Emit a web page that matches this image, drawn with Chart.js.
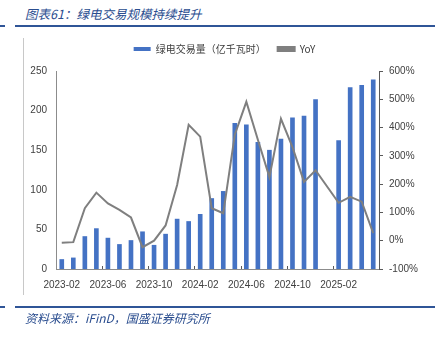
<!DOCTYPE html>
<html>
<head>
<meta charset="utf-8">
<script src="https://cdn.jsdelivr.net/npm/chart.js@4.4.0/dist/chart.umd.min.js"></script>
<style>
  body { margin: 0; background: #fff; }
  .wrap { position: relative; width: 440px; height: 340px; overflow: hidden; background: #fff; }
  .title, .source {
    position: absolute; left: 25px; margin: 0;
    font-family: "Noto Sans CJK SC", sans-serif; font-style: italic;
    color: #2a4d8f; white-space: nowrap;
  }
  .title { top: 4px; font-size: 12.5px; }
  .source { top: 309px; font-size: 12px; }
  .rule { position: absolute; height: 2px; background: #2f5597; }
  .frame { position: absolute; left: 23px; top: 38px; width: 1px; height: 257px; background: #c8c8c8; }
  canvas { position: absolute; left: 0; top: 0; }
</style>
</head>
<body>
<div class="wrap">
  <p class="title">图表61：绿电交易规模持续提升</p>
  <div class="rule" style="left:0;top:25px;width:5px"></div>
  <div class="rule" style="left:15px;top:25px;width:420px"></div>
  <div class="frame"></div>
  <canvas id="myChart" width="440" height="340"></canvas>
  <div class="rule" style="left:0;top:306px;width:5px"></div>
  <div class="rule" style="left:15px;top:306px;width:420px"></div>
  <p class="source">资料来源：iFinD，国盛证券研究所</p>
</div>
<script>
// months 2023-02 .. 2025-05
const months = [
  '2023-02', '2023-03', '2023-04', '2023-05', '2023-06', '2023-07', '2023-08',
  '2023-09', '2023-10', '2023-11', '2023-12', '2024-01', '2024-02', '2024-03',
  '2024-04', '2024-05', '2024-06', '2024-07', '2024-08', '2024-09', '2024-10',
  '2024-11', '2024-12', '2025-01', '2025-02', '2025-03', '2025-04', '2025-05'
]

// 绿电交易量（亿千瓦时）
const volume = [
  12, 14, 41, 51, 39, 31, 36, 47, 30, 44, 63, 60, 69, 89,
  98, 184, 182, 160, 150, 164, 191, 193, 214, null, 162, 229, 232, 239
]

// YoY (%)
const yoy = [
  -7, -5, 115, 170, 132, 109, 82, -23, 0, 54, 197, 410, 368, 115,
  97, 375, 491, 357, 225, 431, 331, 208, 249, null, 134, 155, 138, 27
]

const leftTicks = [0, 50, 100, 150, 200, 250]
const rightTicks = [-100, 0, 100, 200, 300, 400, 500, 600]

const tickFont = { family: '"Liberation Sans", Arial, sans-serif', size: 10 }
const tickColor = '#404040'

// small tick marks on the category axis, every 4 months, pointing up
const xTickMarks = {
  id: 'xTickMarks',
  afterDatasetsDraw(chart) {
    const { ctx, scales: { x } } = chart
    const half = (x.getPixelForValue(1) - x.getPixelForValue(0)) / 2
    ctx.save()
    ctx.strokeStyle = '#595959'
    ctx.lineWidth = 1
    for (let i = 4; i < months.length; i += 4) {
      const px = Math.round(x.getPixelForValue(i) - half) + 0.5
      ctx.beginPath()
      ctx.moveTo(px, x.top)
      ctx.lineTo(px, x.top - 3)
      ctx.stroke()
    }
    ctx.restore()
  }
}

// a bit more room between the legend and the plot
const legendGap = {
  id: 'legendGap',
  afterInit(chart) {
    const legend = chart.legend
    const fit = legend.fit
    legend.fit = function () {
      fit.call(this)
      this.height += 7
    }
  }
}

const ctx = document.getElementById('myChart').getContext('2d')

const myChart = new Chart(ctx, {
  type: 'bar',
  data: {
    labels: months,
    datasets: [{
      label: '绿电交易量（亿千瓦时）',
      data: volume,
      backgroundColor: '#4472c4',
      barThickness: 4,
      yAxisID: 'y',
      order: 1
    }, {
      type: 'line',
      label: 'YoY',
      data: yoy,
      borderColor: '#7f7f7f',
      backgroundColor: '#7f7f7f',
      borderWidth: 2,
      pointRadius: 0,
      spanGaps: true,
      tension: 0,
      yAxisID: 'y1',
      order: 0
    }]
  },
  options: {
    responsive: false,
    animation: false,
    layout: { padding: { left: 25, right: 16, top: 32, bottom: 46 } },
    plugins: {
      tooltip: { enabled: false },
      legend: {
        labels: {
          boxWidth: 17,
          boxHeight: 4,
          padding: 12,
          color: '#404040',
          font: { family: '"Noto Sans CJK SC", sans-serif', size: 10 },
          sort: (a, b) => a.datasetIndex - b.datasetIndex
        }
      }
    },
    scales: {
      x: {
        grid: { display: false },
        border: { color: '#8c8c8c', width: 1 },
        ticks: {
          autoSkip: false,
          maxRotation: 0,
          padding: 2,
          color: tickColor,
          font: tickFont,
          callback: (v, i) => (i % 4 === 0 ? months[i] : '')
        },
        afterFit: (scale) => { scale.height = 25 }
      },
      y: {
        position: 'left',
        min: 0,
        max: 250,
        afterBuildTicks: (scale) => { scale.ticks = leftTicks.map(v => ({ value: v })) },
        grid: { display: false, drawTicks: false },
        border: { color: '#8c8c8c', width: 1 },
        ticks: { padding: 9, color: tickColor, font: tickFont },
        afterFit: (scale) => { scale.width = 31 }
      },
      y1: {
        position: 'right',
        min: -100,
        max: 600,
        afterBuildTicks: (scale) => { scale.ticks = rightTicks.map(v => ({ value: v })) },
        grid: { drawOnChartArea: false, tickLength: 4, color: '#595959' },
        border: { color: '#595959', width: 1 },
        ticks: { padding: 6, color: tickColor, font: tickFont, callback: (v) => v + '%' },
        afterFit: (scale) => { scale.width = 45 }
      }
    }
  },
  plugins: [xTickMarks, legendGap]
})
</script>
</body>
</html>
